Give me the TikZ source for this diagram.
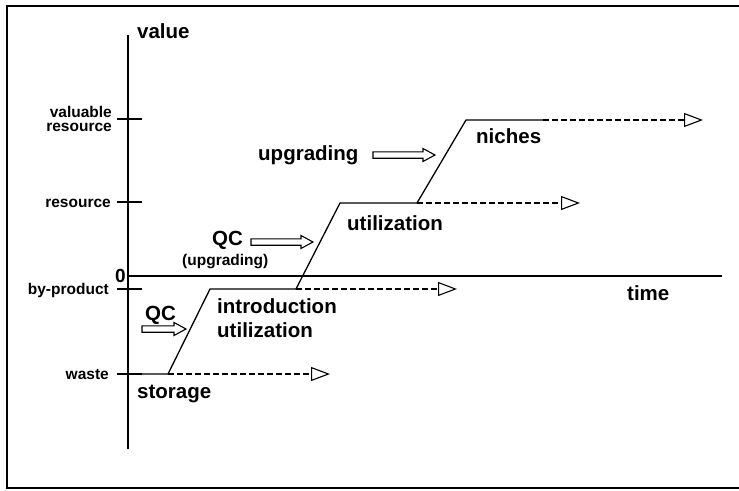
\documentclass[tikz,border=0pt]{standalone}
\usepackage{fontspec}
\setmainfont{Liberation Sans}
\usetikzlibrary{arrows.meta}
\begin{document}
\begin{tikzpicture}[x=1pt,y=-1pt,
  big/.style={font=\bfseries\fontsize{20.5}{22}\selectfont, inner sep=0pt},
  small/.style={font=\bfseries\fontsize{15.5}{14}\selectfont, inner sep=0pt, align=right},
  axis/.style={line width=1.1pt},
  curve/.style={line width=1.3pt},
  future/.style={line width=2.8pt, dash pattern=on 6pt off 3pt,
    -{Triangle[open, length=19pt, width=14pt, line width=1.1pt, sep=0pt]}},
  hollow/.pic={\draw[line width=1.1pt, line join=miter, fill=white]
     (0,-3.2) -- (#1-12,-3.2) -- (#1-12,-6.5) -- (#1,0) -- (#1-12,6.5)
     -- (#1-12,3.2) -- (0,3.2) -- cycle;}
]
\useasboundingbox (0,0) rectangle (739,490);
% frame
\draw[line width=1.3pt] (739,6) -- (7,6) -- (7,488) -- (739,488);

% axes
\coordinate (ytop) at (128,35);
\coordinate (ybot) at (128,449);
\coordinate (xend) at (722,276);
\draw[axis] (ytop) -- (ybot);
\draw[axis] (128,276) coordinate (origin) -- (xend);
\node[big, anchor=base west] (value) at (137,38) {value};
\node[big, anchor=base west] (time) at (627,300) {time};
\node[big, anchor=base east, font=\bfseries\fontsize{19}{20}\selectfont] (zero) at (126,282) {0};

% ticks
\foreach \y/\n in {119/t1, 202/t2, 289/t3, 374/t4}
  \draw[axis] (117,\y) coordinate (\n a) -- (142,\y) coordinate (\n b);
\node[small, anchor=east] (lvr) at (112,119) {valuable\\resource};
\node[small, anchor=base east] (lres) at (111,207) {resource};
\node[small, anchor=base east] (lbp) at (109,294) {by-product};
\node[small, anchor=base east] (lw) at (109,379) {waste};

% staircase
\coordinate (c1) at (168,374);
\coordinate (c2) at (210,289);
\coordinate (c3) at (296,289);
\coordinate (c4) at (340,203);
\coordinate (c5) at (417,203);
\coordinate (c6) at (466,120);
\coordinate (c7) at (543,120);
\draw[curve] (t4b) -- (c1) -- (c2) -- (c3) -- (c4) -- (c5) -- (c6) -- (c7);
\draw[curve] (128,374) -- (t4b);

% future arrows
\coordinate (e1) at (330,374);
\coordinate (e2) at (457,289);
\coordinate (e3) at (580,203);
\coordinate (e4) at (703,120);
\draw[future] (c1) -- (e1);
\draw[future] (c3) -- (e2);
\draw[future] (c5) -- (e3);
\draw[future] (c7) -- (e4);

% labels
\node[big, anchor=base west] (storage) at (137,398) {storage};
\node[big, anchor=base west] (intro) at (217,313) {introduction};
\node[big, anchor=base west] (util1) at (217,337) {utilization};
\node[big, anchor=base west] (util2) at (347,230) {utilization};
\node[big, anchor=base west] (niches) at (476,143) {niches};
\node[big, anchor=base west] (upg) at (258,160) {upgrading};
\node[big, anchor=base west] (qc1) at (145,320) {QC};
\node[big, anchor=base west] (qc2) at (212,245) {QC};
\node[small, anchor=base west, font=\bfseries\fontsize{15.5}{16}\selectfont] (upgp) at (182,265) {(upgrading)};

% hollow arrows
\pic (h1) at (142,329) {hollow=44};
\pic (h2) at (251,242) {hollow=62};
\pic (h3) at (373,155) {hollow=62};
\end{tikzpicture}
\end{document}
